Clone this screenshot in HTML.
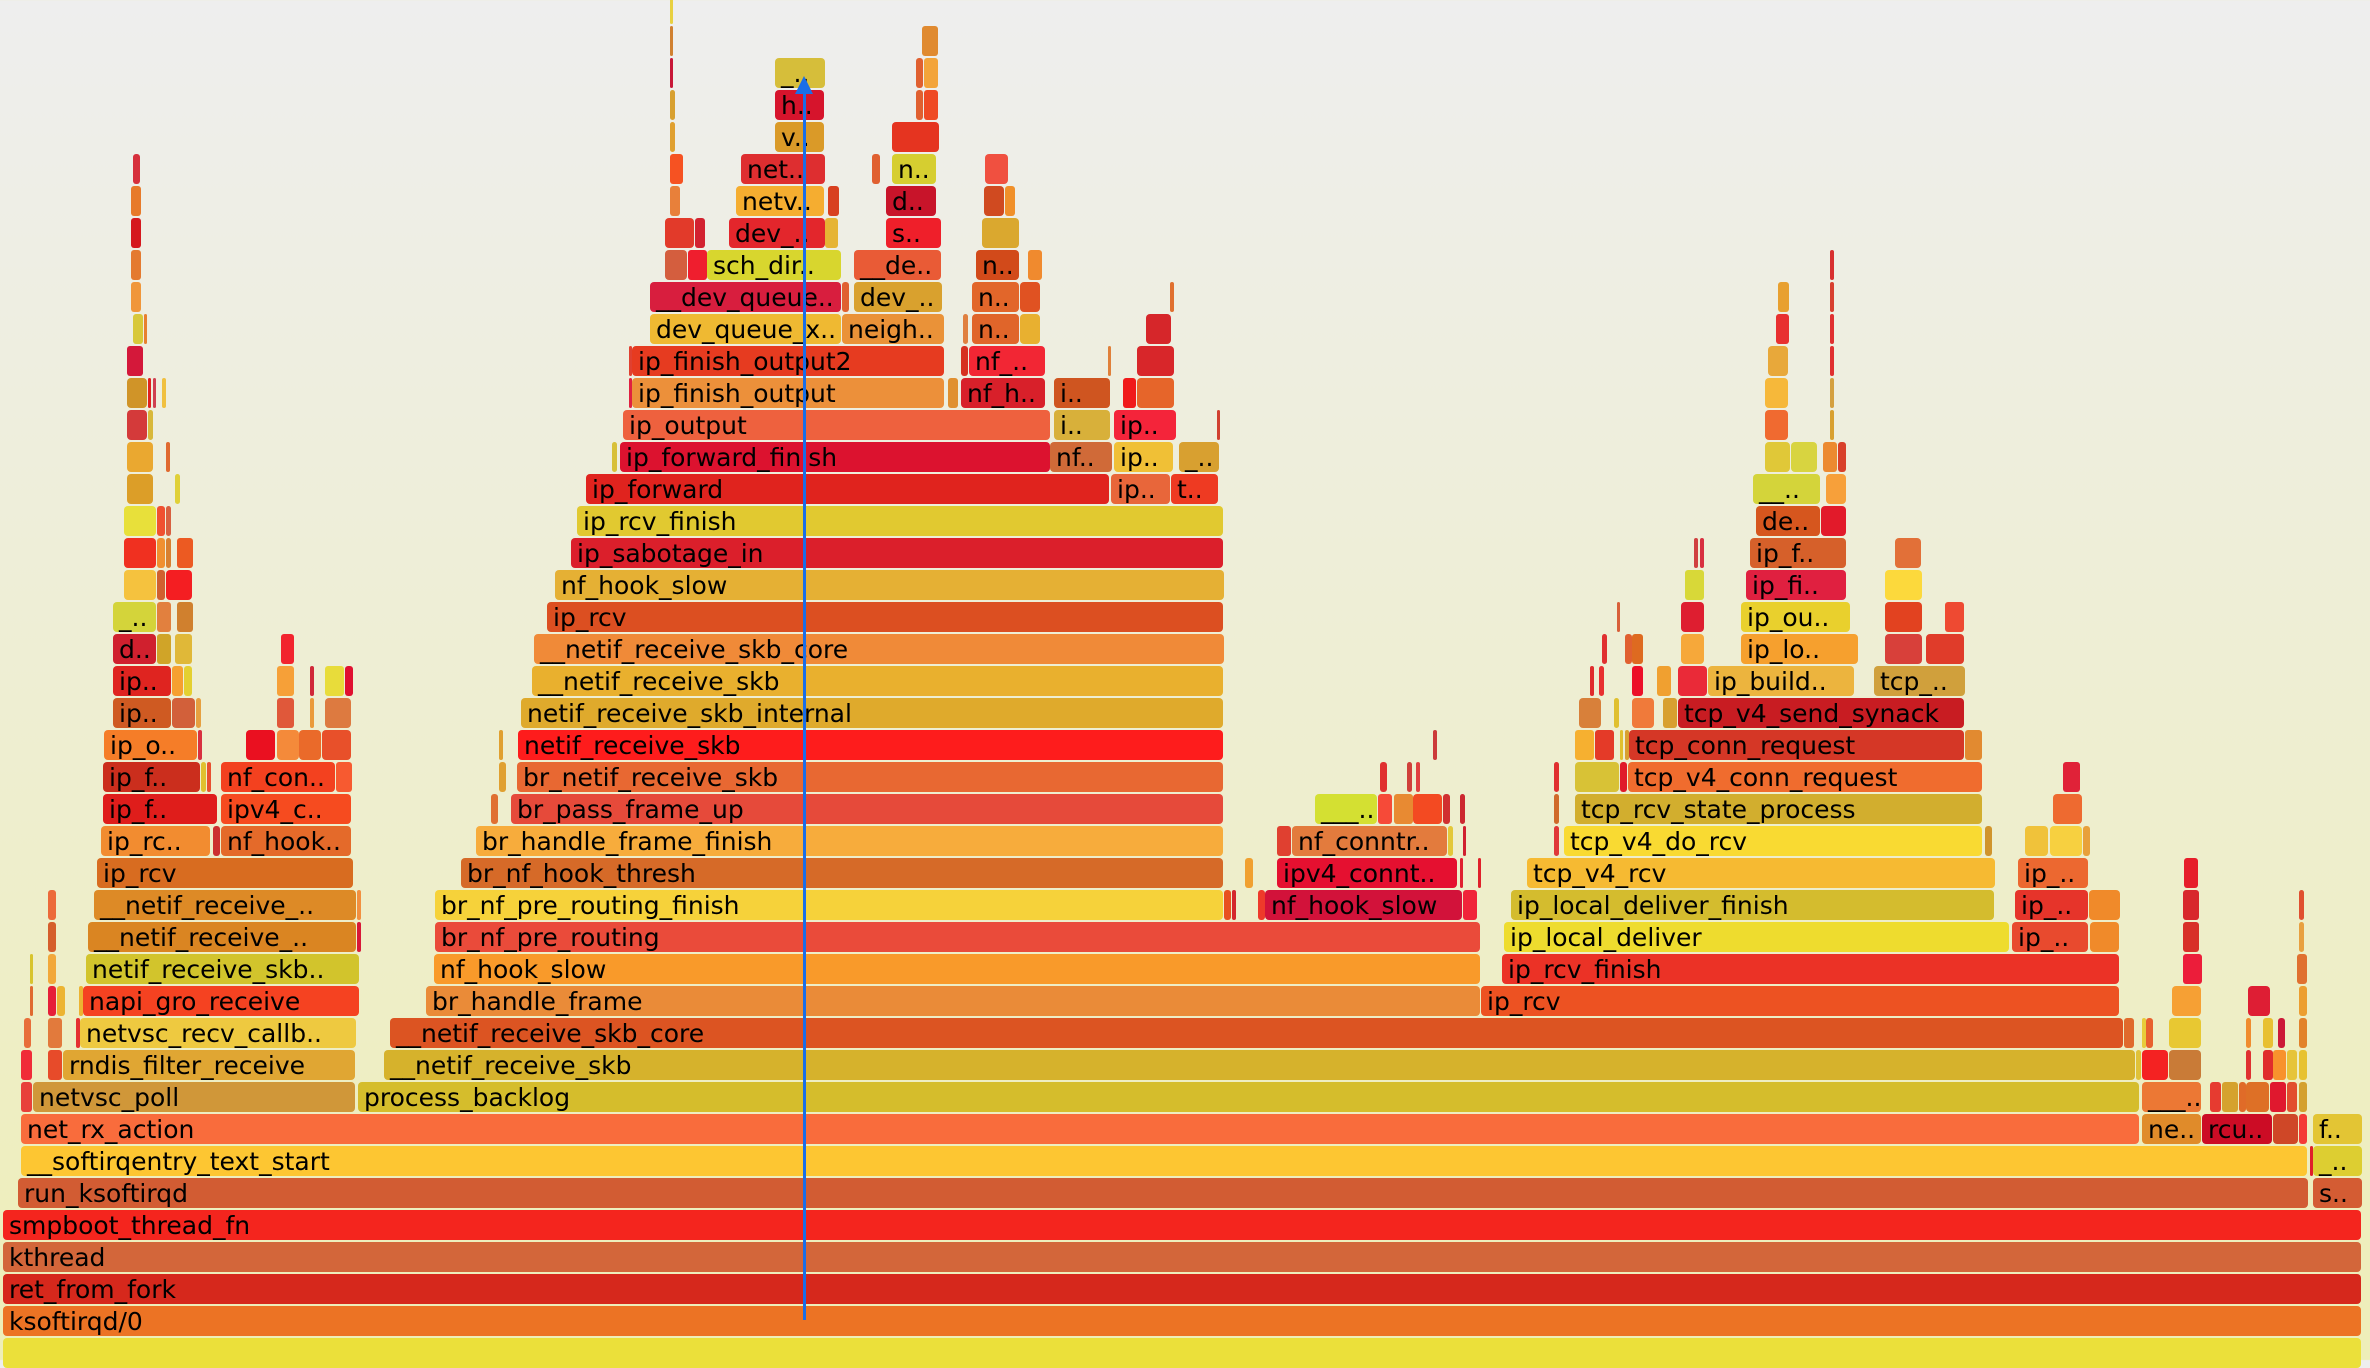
<!DOCTYPE html>
<html><head><meta charset="utf-8">
<style>
html,body{margin:0;padding:0}
body{width:2370px;height:1360px;position:relative;overflow:hidden;background:linear-gradient(#eeeeee 0%,#eeeeb8 100%);font-family:"DejaVu Sans","Liberation Sans",sans-serif}
.b{position:absolute;height:30px;border-radius:4px;overflow:hidden;white-space:nowrap;font-size:25px;line-height:31px;color:#000;box-sizing:border-box;padding-left:6px}
#ln{position:absolute;left:803px;top:86px;width:3px;height:1234px;background:#1a6ee8}
#ar{position:absolute;left:795px;top:76px;width:0;height:0;border-left:9px solid transparent;border-right:9px solid transparent;border-bottom:18px solid #1a6ee8}
</style></head><body>
<script>
var S=2370/1568;
var D=[
[0,2,1563,'#ebe03a',''],
[1,2,1563,'#ec7324','ksoftirqd/0'],
[2,2,1563,'#d6281c','ret_from_fork'],
[3,2,1563,'#d3663a','kthread'],
[4,2,1563,'#f4251e','smpboot_thread_fn'],
[5,12,1528,'#d25c33','run_ksoftirqd'],[5,1530,1563,'#d45c33','s..'],
[6,14,1527,'#fdc632','__softirqentry_text_start'],[6,1528,1530,'#e0202a',''],[6,1530,1563,'#ddce31','_..'],
[7,14,1416,'#f96c3c','net_rx_action'],[7,1417,1457,'#e08b2a','ne..'],[7,1457,1504,'#cc0c25','rcu..'],[7,1504,1521,'#cf4727',''],[7,1521,1527,'#f43a35',''],[7,1530,1563,'#e3c534','f..'],
[8,14,22,'#e8403a',''],[8,22,236,'#d09739','netvsc_poll'],[8,237,1416,'#d5bd2c','process_backlog'],[8,1417,1457,'#ec7834','___..'],[8,1462,1470,'#e63b30',''],[8,1470,1481,'#d5a22e',''],[8,1481,1486,'#e06b28',''],[8,1486,1502,'#de7026',''],[8,1502,1513,'#e0182e',''],[8,1513,1520,'#e24e2e',''],[8,1521,1527,'#d4a02e',''],
[9,14,22,'#f02b38',''],[9,32,42,'#e74b2a',''],[9,42,236,'#e0a633','rndis_filter_receive'],[9,254,1413,'#d6b22c','__netif_receive_skb'],[9,1413,1417,'#e0c238',''],[9,1417,1435,'#f42222',''],[9,1435,1457,'#c97b37',''],[9,1486,1490,'#e03030',''],[9,1497,1504,'#e02c2c',''],[9,1504,1513,'#f8922c',''],[9,1513,1520,'#e6c43a',''],[9,1521,1527,'#e7c231',''],
[10,16,21,'#e86e3a',''],[10,32,42,'#e27a3c',''],[10,50,53,'#e53030',''],[10,53,236,'#eec940','netvsc_recv_callb..'],[10,258,1405,'#dc5422','__netif_receive_skb_core'],[10,1405,1412,'#e06a2c',''],[10,1417,1420,'#e8cc3a',''],[10,1420,1425,'#e8602e',''],[10,1435,1457,'#e8c832',''],[10,1486,1490,'#f08c2e',''],[10,1497,1504,'#e8c032',''],[10,1507,1512,'#cc1838',''],[10,1521,1527,'#e2822a',''],
[11,20,22,'#e06a30',''],[11,32,38,'#e61f38',''],[11,38,44,'#ecb432',''],[11,52,55,'#ecb432',''],[11,55,238,'#f54221','napi_gro_receive'],[11,282,980,'#ea8b38','br_handle_frame'],[11,980,1403,'#ed5222','ip_rcv'],[11,1437,1457,'#f6a034',''],[11,1487,1502,'#de1e34',''],[11,1521,1527,'#ec9e30',''],
[12,20,22,'#d8c42e',''],[12,32,38,'#f2a83a',''],[12,57,238,'#d2c42c','netif_receive_skb..'],[12,287,980,'#f99a2a','nf_hook_slow'],[12,994,1403,'#eb3226','ip_rcv_finish'],[12,1444,1457,'#ec1d3a',''],[12,1520,1527,'#e07030',''],
[13,32,38,'#d55e2c',''],[13,58,236,'#da8522','__netif_receive_..'],[13,236,239,'#d81838',''],[13,288,980,'#ea4b3a','br_nf_pre_routing'],[13,995,1330,'#eedc2e','ip_local_deliver'],[13,1331,1382,'#e84a2e','ip_..'],[13,1383,1403,'#f08a2a',''],[13,1444,1455,'#d83028',''],[13,1521,1525,'#e8a040',''],
[14,32,38,'#ec6a3a',''],[14,62,236,'#dd8a26','__netif_receive_..'],[14,236,239,'#f29040',''],[14,288,810,'#f6d23a','br_nf_pre_routing_finish'],[14,810,815,'#e85020',''],[14,815,818,'#d4282c',''],[14,832,837,'#ee3a2a',''],[14,837,968,'#d2123a','nf_hook_slow'],[14,968,978,'#f0243a',''],[14,1000,1320,'#d4bc2e','ip_local_deliver_finish'],[14,1333,1382,'#e6342a','ip_..'],[14,1382,1403,'#f08a2a',''],[14,1444,1455,'#d8282c',''],[14,1521,1525,'#e05030',''],
[15,64,234,'#d86c20','ip_rcv'],[15,305,810,'#d66a28','br_nf_hook_thresh'],[15,824,830,'#f0a030',''],[15,845,965,'#e51030','ipv4_connt..'],[15,966,968,'#e02030',''],[15,978,980,'#e0202a',''],[15,1010,1320,'#f6ba32','tcp_v4_rcv'],[15,1335,1382,'#ec6830','ip_..'],[15,1445,1455,'#e61e2a',''],
[16,67,140,'#f28c30','ip_rc..'],[16,141,146,'#cc3030',''],[16,146,233,'#e46a2a','nf_hook..'],[16,315,810,'#f7ac3c','br_handle_frame_finish'],[16,845,855,'#e04030',''],[16,855,958,'#e37b3d','nf_conntr..'],[16,958,962,'#e3c83a',''],[16,968,970,'#d02030',''],[16,1028,1032,'#e03838',''],[16,1035,1312,'#f9da32','tcp_v4_do_rcv'],[16,1313,1318,'#d0942c',''],[16,1340,1356,'#f0c23a',''],[16,1356,1378,'#f7d040',''],[16,1378,1383,'#e8a03a',''],
[17,68,144,'#df1d1b','ip_f..'],[17,146,233,'#f64b1f','ipv4_c..'],[17,325,330,'#e07032',''],[17,338,810,'#e64a3a','br_pass_frame_up'],[17,870,912,'#d4e032','___..'],[17,912,922,'#f64a38',''],[17,922,935,'#e88a32',''],[17,935,955,'#f34a22',''],[17,955,960,'#d03030',''],[17,966,970,'#cc2830',''],[17,1028,1032,'#d06a2a',''],[17,1042,1312,'#d2ae2e','tcp_rcv_state_process'],[17,1358,1378,'#ee6a30',''],
[18,68,133,'#cb2e1d','ip_f..'],[18,133,137,'#e0c030',''],[18,137,140,'#e85030',''],[18,146,222,'#f3411f','nf_con..'],[18,222,233,'#f75a30',''],[18,330,335,'#e0a030',''],[18,342,810,'#e86832','br_netif_receive_skb'],[18,913,918,'#e03030',''],[18,931,935,'#d0403a',''],[18,937,940,'#e04040',''],[18,1028,1032,'#e03030',''],[18,1042,1072,'#d8c236',''],[18,1072,1077,'#e01a2a',''],[18,1077,1312,'#f06c2e','tcp_v4_conn_request'],[18,1365,1377,'#e02238',''],
[19,69,131,'#f57d28','ip_o..'],[19,131,134,'#d83040',''],[19,163,183,'#ea1020',''],[19,183,198,'#f48a3a',''],[19,198,213,'#ea6a2a',''],[19,213,233,'#e8502a',''],[19,330,333,'#e0a030',''],[19,343,810,'#fe1c1c','netif_receive_skb'],[19,948,951,'#cc3a3a',''],[19,1042,1055,'#f6b030',''],[19,1055,1068,'#e43a28',''],[19,1072,1074,'#e0c030',''],[19,1075,1078,'#d8a030',''],[19,1078,1300,'#d53726','tcp_conn_request'],[19,1300,1312,'#e28a30',''],
[20,75,114,'#cf5a22','ip..'],[20,114,130,'#d2603a',''],[20,130,134,'#e6a040',''],[20,183,195,'#e0583a',''],[20,205,208,'#ea9a3a',''],[20,215,233,'#dd7a40',''],[20,345,810,'#dfaa2c','netif_receive_skb_internal'],[20,1045,1060,'#d8803a',''],[20,1068,1072,'#e0c030',''],[20,1080,1095,'#f07a3a',''],[20,1100,1110,'#d8a030',''],[20,1110,1300,'#c81c22','tcp_v4_send_synack'],
[21,75,114,'#df2420','ip..'],[21,114,122,'#f6a030',''],[21,122,128,'#e4d030',''],[21,183,195,'#f6a038',''],[21,205,208,'#d02838',''],[21,215,228,'#e8dc3a',''],[21,228,234,'#e01030',''],[21,352,810,'#e9b02e','__netif_receive_skb'],[21,1052,1055,'#e02c2c',''],[21,1058,1062,'#e83030',''],[21,1080,1088,'#ec1028',''],[21,1096,1106,'#f0a030',''],[21,1110,1130,'#ea2a38',''],[21,1130,1227,'#ecb43e','ip_build..'],[21,1240,1301,'#d0a03c','tcp_..'],
[22,75,104,'#d0202e','d..'],[22,104,114,'#d0a428',''],[22,116,128,'#e0b838',''],[22,186,195,'#f2242e',''],[22,353,810,'#f08a38','__netif_receive_skb_core'],[22,1060,1064,'#e03030',''],[22,1075,1080,'#e06030',''],[22,1080,1088,'#de6a20',''],[22,1112,1128,'#f6a83a',''],[22,1152,1230,'#f6a02e','ip_lo..'],[22,1247,1272,'#d8403a',''],[22,1274,1300,'#e03c2a',''],
[23,75,104,'#d4d43a','_..'],[23,104,114,'#e2803e',''],[23,117,128,'#d0802e',''],[23,362,810,'#dc4f21','ip_rcv'],[23,1070,1072,'#d8603a',''],[23,1112,1128,'#de1e30',''],[23,1152,1225,'#e9d02d','ip_ou..'],[23,1247,1272,'#e24220',''],[23,1287,1300,'#ee4a32',''],
[24,82,104,'#f5c23e',''],[24,104,110,'#d06030',''],[24,110,128,'#f41e22',''],[24,367,810,'#e5b034','nf_hook_slow'],[24,1115,1128,'#d8d838',''],[24,1155,1222,'#e02040','ip_fi..'],[24,1247,1272,'#fcd93c',''],
[25,82,104,'#f03020',''],[25,104,110,'#f09030',''],[25,110,114,'#d88030',''],[25,117,128,'#ec5a22',''],[25,378,810,'#db1f2b','ip_sabotage_in'],[25,1121,1124,'#d04040',''],[25,1125,1128,'#d83040',''],[25,1158,1222,'#d6602a','ip_f..'],[25,1254,1272,'#e27038',''],
[26,82,104,'#e8e03a',''],[26,104,110,'#f05030',''],[26,110,114,'#d86040',''],[26,382,810,'#e1c930','ip_rcv_finish'],[26,1162,1205,'#d6561e','de..'],[26,1205,1222,'#e21a2a',''],
[27,84,102,'#dc9e28',''],[27,116,120,'#e0d038',''],[27,388,735,'#e0231e','ip_forward'],[27,735,775,'#e8663a','ip..'],[27,775,807,'#ee3a22','t..'],[27,1160,1205,'#d4d43a','__..'],[27,1208,1222,'#f7a03a',''],
[28,84,102,'#eaa830',''],[28,110,113,'#e06a30',''],[28,405,409,'#d8c038',''],[28,410,695,'#dc122f','ip_forward_finish'],[28,695,737,'#d06a38','nf..'],[28,737,777,'#f0c036','ip..'],[28,780,807,'#d8a030','_..'],[28,1168,1185,'#e0c838',''],[28,1185,1203,'#d8d440',''],[28,1206,1216,'#ec8a30',''],[28,1216,1222,'#d8402a',''],
[29,84,98,'#d43a3a',''],[29,98,102,'#d8b83a',''],[29,412,695,'#ee613e','ip_output'],[29,697,735,'#d8b03a','i..'],[29,737,779,'#f4243a','ip..'],[29,805,807,'#d04030',''],[29,1168,1184,'#f06a30',''],[29,1211,1214,'#d8a030',''],
[30,84,98,'#d09428',''],[30,98,100,'#e02020',''],[30,101,103,'#d04050',''],[30,107,110,'#f0c040',''],[30,416,418,'#e02040',''],[30,418,625,'#ec903a','ip_finish_output'],[30,627,634,'#e09030',''],[30,636,692,'#d8202a','nf_h..'],[30,697,735,'#cf5520','i..'],[30,743,752,'#f01a1a',''],[30,752,777,'#e6652a',''],[30,1168,1184,'#f6b83a',''],[30,1211,1214,'#d4a040',''],
[31,84,95,'#d4183a',''],[31,416,418,'#e04030',''],[31,418,625,'#e63b20','ip_finish_output2'],[31,636,641,'#d63020',''],[31,641,692,'#f22634','nf_..'],[31,733,735,'#e0803a',''],[31,752,777,'#d8262a',''],[31,1170,1184,'#e8a83a',''],[31,1211,1214,'#e03030',''],
[32,88,95,'#d8c83a',''],[32,95,97,'#e88030',''],[32,430,557,'#efb932','dev_queue_x..'],[32,557,625,'#ea9238','neigh..'],[32,637,641,'#e08040',''],[32,643,675,'#e0652a','n..'],[32,675,689,'#e8b030',''],[32,758,775,'#d6262a',''],[32,1175,1184,'#e83030',''],[32,1211,1214,'#e03030',''],
[33,430,557,'#d81e3e','__dev_queue..'],[33,557,562,'#e06030',''],[33,565,624,'#d9a12e','dev_..'],[33,643,675,'#e2662a','n..'],[33,675,689,'#e05222',''],[33,774,777,'#e07030',''],[33,1176,1184,'#e8a030',''],[33,1211,1214,'#d84030',''],
[34,87,94,'#e47a30',''],[34,440,455,'#d45e3e',''],[34,455,468,'#ef1e2e',''],[34,468,557,'#d8d62e','sch_dir..'],[34,565,623,'#e95b36','__de..'],[34,646,675,'#d24a1a','n..'],[34,680,690,'#f08a2e',''],[34,1211,1214,'#d83030',''],
[33,87,94,'#f0963a',''],
[35,87,94,'#d5181e',''],[35,440,460,'#e23a2a',''],[35,460,467,'#d22230',''],[35,482,546,'#e3262c','dev_..'],[35,546,555,'#e6b434',''],[35,586,623,'#ef1f2a','s..'],[35,650,675,'#daa82f',''],
[36,87,94,'#e77a2a',''],[36,443,450,'#e8803a',''],[36,487,546,'#f5ad30','netv..'],[36,548,556,'#d84020',''],[36,586,620,'#c8142a','d..'],[36,651,665,'#d04a20',''],[36,665,672,'#f0902a',''],
[37,88,93,'#d6303c',''],[37,443,452,'#f65222',''],[37,490,546,'#de2e30','net..'],[37,577,583,'#e06030',''],[37,590,620,'#d6ce30','n..'],[37,652,668,'#f05040',''],
[38,443,447,'#e0a030',''],[38,513,546,'#da9a28','v..'],[38,590,622,'#e53420',''],
[39,443,447,'#d8a030',''],[39,513,546,'#d6142c','h..'],[39,606,611,'#e06030',''],[39,611,621,'#ef4a24',''],
[40,443,445,'#c81838',''],[40,513,547,'#d6be3a','_..'],[40,606,611,'#e06030',''],[40,611,621,'#f3a43a',''],
[41,443,445,'#d08030',''],[41,610,621,'#e08a30',''],
[42,443,445,'#e8d040','']
];
var h='';
for(var i=0;i<D.length;i++){var d=D[i];var x=Math.round(d[1]*S),w=Math.max(3,Math.round((d[2]-d[1])*S)-1);var t=1338-32*d[0];
var pad=w<20?'padding-left:0;border-radius:3px;':'';
h+='<div class="b" style="left:'+x+'px;top:'+t+'px;width:'+w+'px;background:'+d[3]+';'+pad+'">'+d[4]+'</div>';}
document.write(h);
</script>
<div id="ln"></div><div id="ar"></div>
</body></html>
